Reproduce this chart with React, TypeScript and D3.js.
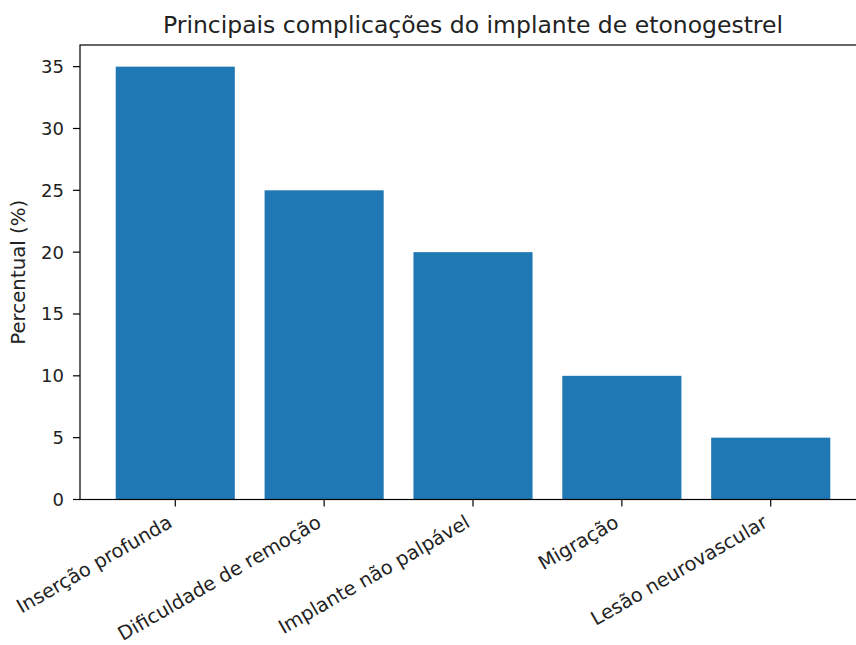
import * as d3 from "d3";
import React from "react";

const categories = [
  "Inserção profunda",
  "Dificuldade de remoção",
  "Implante não palpável",
  "Migração",
  "Lesão neurovascular",
];
const percentages = [35, 25, 20, 10, 5];
const yTicks = [0, 5, 10, 15, 20, 25, 30, 35];

const title = "Principais complicações do implante de etonogestrel";
const yLabel = "Percentual (%)";

const W = 856, H = 645;
const margin = { top: 45, right: -10, bottom: 145.5, left: 80 };
const FONT = "'DejaVu Sans', sans-serif";

function App() {
  const left = margin.left, right = W - margin.right;
  const top = margin.top, bottom = H - margin.bottom;

  // matplotlib style: bars of width 0.8 on integer positions, 5% margins
  const x = d3.scaleLinear().domain([-0.64, categories.length - 1 + 0.64]).range([left, right]);
  const y = d3.scaleLinear().domain([0, d3.max(percentages)! * 1.05]).range([bottom, top]);
  const barW = x(0.8) - x(0);

  return (
    <svg width={W} height={H} style={{ position: "absolute", left: 0, top: 0, background: "#fff" }}>
      <rect x={0} y={0} width={W} height={H} fill="#fff" />
      {percentages.map((v, i) => (
        <rect key={i} x={x(i) - barW / 2} y={y(v)} width={barW} height={y(0) - y(v)} fill="#1f77b4" />
      ))}

      {/* spines */}
      <rect x={left} y={top} width={right - left} height={bottom - top} fill="none" stroke="#000" strokeWidth={1.2} />

      {/* y axis */}
      {yTicks.map((t) => (
        <g key={t} transform={`translate(${left},${y(t)})`}>
          <line x1={-7} x2={0} stroke="#000" strokeWidth={1.2} />
          <text x={-16} dy="0.36em" textAnchor="end" fontFamily={FONT} fontSize={18} fill="#222">{t}</text>
        </g>
      ))}
      <text
        transform={`translate(25,${(top + bottom) / 2}) rotate(-90)`}
        textAnchor="middle" fontFamily={FONT} fontSize={19.8} fill="#222"
      >{yLabel}</text>

      {/* x axis */}
      {categories.map((c, i) => (
        <g key={c} transform={`translate(${x(i)},${bottom})`}>
          <line y1={0} y2={7} stroke="#000" strokeWidth={1.2} />
          <text
            transform="translate(-9,14) rotate(-30)"
            textAnchor="end" dy="0.75em" fontFamily={FONT} fontSize={19.4} fill="#222"
          >{c}</text>
        </g>
      ))}

      <text x={(left + right) / 2} y={33} textAnchor="middle" fontFamily={FONT} fontSize={23.5} fill="#222">{title}</text>
    </svg>
  );
}

export default App;
